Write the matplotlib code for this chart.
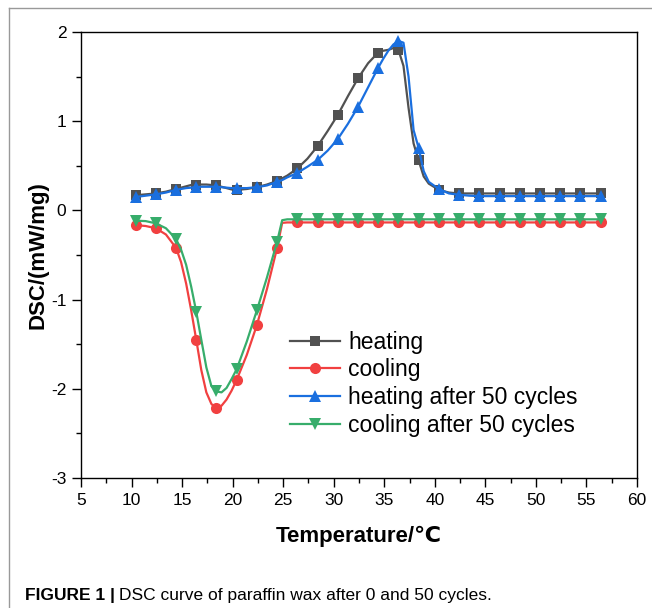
import numpy as np
import matplotlib
matplotlib.use("Agg")
import matplotlib.pyplot as plt
from matplotlib.ticker import MultipleLocator
from matplotlib.lines import Line2D

plt.rcParams['font.family'] = ['Liberation Sans', 'DejaVu Sans']
plt.rcParams['axes.unicode_minus'] = False

# Temperature grid (°C); markers sit every 2 °C starting at 10.4
temperature = [10.4, 11.4, 12.4, 13.4, 14.4, 14.9, 15.4, 15.9, 16.4, 16.9,
               17.4, 17.9, 18.4, 18.9, 19.4, 19.9, 20.4, 21.4, 22.4, 23.4,
               23.9, 24.4, 24.9, 25.4, 26.4, 27.4, 28.4, 29.4, 30.4, 31.4,
               32.4, 33.4, 34.4, 34.9, 35.4, 35.9, 36.4, 36.9, 37.4, 37.9,
               38.4, 38.9, 39.4, 40.4, 41.4, 42.4, 43.4, 44.4, 45.4, 46.4,
               47.4, 48.4, 49.4, 50.4, 51.4, 52.4, 53.4, 54.4, 55.4, 56.4]

heating = [0.17, 0.18, 0.19, 0.21, 0.24, 0.255, 0.27, 0.285, 0.29, 0.29,
           0.29, 0.285, 0.28, 0.265, 0.25, 0.235, 0.23, 0.24, 0.26, 0.29,
           0.31, 0.33, 0.36, 0.39, 0.47, 0.58, 0.72, 0.89, 1.07, 1.28,
           1.48, 1.65, 1.77, 1.79, 1.80, 1.82, 1.80, 1.62, 1.15, 0.75,
           0.56, 0.38, 0.30, 0.23, 0.20, 0.19, 0.19, 0.19, 0.19, 0.19,
           0.19, 0.19, 0.19, 0.19, 0.19, 0.19, 0.19, 0.19, 0.19, 0.19]

cooling = [-0.165, -0.175, -0.20, -0.27, -0.42, -0.58, -0.82, -1.12, -1.45, -1.79,
           -2.04, -2.17, -2.22, -2.19, -2.12, -2.02, -1.90, -1.62, -1.285, -0.88,
           -0.65, -0.42, -0.14, -0.135, -0.135, -0.135, -0.135, -0.135, -0.135, -0.135,
           -0.135, -0.135, -0.135, -0.135, -0.135, -0.135, -0.135, -0.135, -0.135, -0.135,
           -0.135, -0.135, -0.135, -0.135, -0.135, -0.135, -0.135, -0.135, -0.135, -0.135,
           -0.135, -0.135, -0.135, -0.135, -0.135, -0.135, -0.135, -0.135, -0.135, -0.135]

heating_50 = [0.15, 0.165, 0.18, 0.20, 0.23, 0.24, 0.25, 0.255, 0.26, 0.265,
              0.265, 0.265, 0.265, 0.26, 0.255, 0.25, 0.25, 0.25, 0.26, 0.28,
              0.30, 0.32, 0.34, 0.37, 0.42, 0.49, 0.565, 0.67, 0.80, 0.97,
              1.16, 1.38, 1.60, 1.70, 1.79, 1.86, 1.90, 1.88, 1.50, 0.90,
              0.70, 0.44, 0.32, 0.24, 0.19, 0.175, 0.165, 0.16, 0.16, 0.16,
              0.16, 0.16, 0.16, 0.16, 0.16, 0.16, 0.16, 0.16, 0.16, 0.16]

cooling_50 = [-0.115, -0.12, -0.145, -0.20, -0.32, -0.44, -0.61, -0.855, -1.135, -1.45,
              -1.76, -1.97, -2.03, -2.04, -1.99, -1.89, -1.78, -1.47, -1.12, -0.75,
              -0.55, -0.35, -0.11, -0.10, -0.10, -0.10, -0.10, -0.10, -0.10, -0.10,
              -0.10, -0.10, -0.10, -0.10, -0.10, -0.10, -0.10, -0.10, -0.10, -0.10,
              -0.10, -0.10, -0.10, -0.10, -0.10, -0.10, -0.10, -0.10, -0.10, -0.10,
              -0.10, -0.10, -0.10, -0.10, -0.10, -0.10, -0.10, -0.10, -0.10, -0.10]

labels = ["heating", "cooling", "heating after 50 cycles", "cooling after 50 cycles"]
colors = ["#515151", "#F14040", "#1A6FDF", "#37AD6B"]
markers = ["s", "o", "^", "v"]
msizes = [7.5, 8, 9, 9]

T = np.array(temperature)
mark_idx = [i for i, t in enumerate(T) if abs(((t - 10.4) / 2.0) - round((t - 10.4) / 2.0)) < 1e-6]

fig = plt.figure(figsize=(6.52, 6.08), dpi=100)
W, H = 652, 608
ax = fig.add_axes([81 / W, 1 - 478 / H, (637 - 81) / W, (478 - 32) / H])

for series, lab, c, m, ms in zip([heating, cooling, heating_50, cooling_50],
                                 labels, colors, markers, msizes):
    ax.plot(T, series, color=c, lw=1.6, marker=m, markersize=ms,
            markevery=mark_idx, markeredgewidth=0, label=lab)

ax.set_xlim(5, 60)
ax.set_ylim(-3, 2)
ax.xaxis.set_major_locator(MultipleLocator(5))
ax.xaxis.set_minor_locator(MultipleLocator(2.5))
ax.yaxis.set_major_locator(MultipleLocator(1))
ax.yaxis.set_minor_locator(MultipleLocator(0.5))
ax.tick_params(which="major", direction="out", length=6.5, width=1.0,
               labelsize=12.5, pad=4, colors="black")
ax.tick_params(which="minor", direction="out", length=3.5, width=1.0)
for s in ax.spines.values():
    s.set_linewidth(1.0)
    s.set_color("black")

fig.text(38 / W, 1 - 255 / H, "DSC/(mW/mg)", rotation=90, ha="center", va="center",
         fontsize=16, fontweight="bold")
fig.text(359 / W, 1 - 536 / H, "Temperature/\u2103", ha="center", va="center",
         fontsize=16, fontweight="bold")

ax.legend(loc="upper left", bbox_to_anchor=(0.376, 0.33), frameon=False,
          fontsize=16.5, handlelength=2.2, handletextpad=0.35, labelspacing=0.2,
          borderpad=0, borderaxespad=0)

# Outer frame lines
fig.add_artist(Line2D([9 / W, 1], [1 - 8 / H, 1 - 8 / H], color="#999999", lw=1.0,
                      transform=fig.transFigure))
fig.add_artist(Line2D([9 / W, 9 / W], [0, 1 - 8 / H], color="#999999", lw=1.0,
                      transform=fig.transFigure))

# Caption
renderer = fig.canvas.get_renderer()
t1 = fig.text(25 / W, 1 - 600 / H, "FIGURE 1 |", ha="left", va="baseline",
              fontsize=12.5, fontweight="bold")
bb = t1.get_window_extent(renderer)
fig.text(bb.x1 / W + 4 / W, 1 - 600 / H, "DSC curve of paraffin wax after 0 and 50 cycles.",
         ha="left", va="baseline", fontsize=12.5)

fig.savefig("out.png", dpi=100)
